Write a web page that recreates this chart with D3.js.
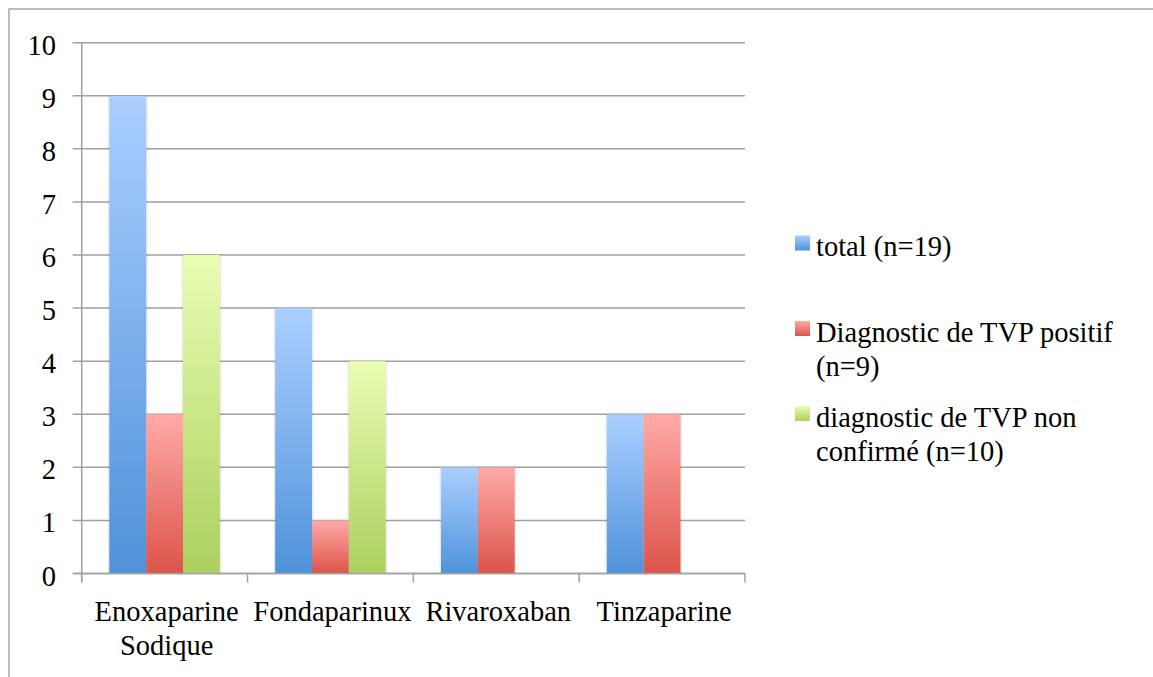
<!DOCTYPE html>
<html>
<head>
<meta charset="utf-8">
<script src="https://cdn.jsdelivr.net/npm/d3@7"></script>
</head>
<body style="margin:0">
<svg id="chart" width="1153" height="677"></svg>
<script>
const categories = [["Enoxaparine", "Sodique"], ["Fondaparinux"], ["Rivaroxaban"], ["Tinzaparine"]];
const seriesNames = [["total (n=19)"], ["Diagnostic de TVP positif", "(n=9)"], ["diagnostic de TVP non", "confirmé (n=10)"]];
const totalValues = [9, 5, 2, 3];
const positifValues = [3, 1, 2, 3];
const nonConfirmeValues = [6, 4, null, null];
const yTicks = [0, 1, 2, 3, 4, 5, 6, 7, 8, 9, 10];

const seriesValues = [totalValues, positifValues, nonConfirmeValues];
const gradStops = [
  ["#abcfff", "#4e92da"],
  ["#ffaaa7", "#dc5349"],
  ["#eafdb3", "#abd05e"]
];

const FONT = "'Liberation Serif'";
const fontSize = 28.5;
const gridColor = "#a0a0a0";

const svg = d3.select("#chart");
const defs = svg.append("defs");
gradStops.forEach((c, i) => {
  const g = defs.append("linearGradient").attr("id", "g" + i)
    .attr("x1", 0).attr("y1", 0).attr("x2", 0).attr("y2", 1);
  g.append("stop").attr("offset", "0%").attr("stop-color", c[0]);
  g.append("stop").attr("offset", "100%").attr("stop-color", c[1]);
});

// frame
svg.append("rect").attr("x", 9).attr("y", 9).attr("width", 1200).attr("height", 700)
  .attr("fill", "none").attr("stroke", "#a6a6a6").attr("stroke-width", 1.5);

const x0 = 81.7, x1r = 745, yTop = 42.7, yBot = 573.5;
const catKeys = categories.map(c => c.join(" "));
const x = d3.scaleBand().domain(catKeys).range([x0, x1r]).paddingInner(0).paddingOuter(0);
const xs = d3.scaleBand().domain([0, 1, 2]).range([0, x.bandwidth()]).paddingInner(0).paddingOuter(0.75);
const y = d3.scaleLinear().domain([0, 10]).range([yBot, yTop]);

// gridlines
svg.append("g").selectAll("line").data(yTicks).join("line")
  .attr("x1", x0 - 9).attr("x2", x1r)
  .attr("y1", d => y(d)).attr("y2", d => y(d))
  .attr("stroke", gridColor).attr("stroke-width", 1.5);

// bar shadows (soft edges) and bars
const bars = [];
seriesValues.forEach((vals, si) => {
  vals.forEach((v, ci) => {
    if (v !== null && v !== undefined) bars.push({ si, ci, v });
  });
});
svg.append("g").selectAll("rect").data(bars).join("rect")
  .attr("x", d => x(catKeys[d.ci]) + xs(d.si) - 1.5)
  .attr("width", xs.bandwidth() + 3)
  .attr("y", d => y(d.v) - 0.5)
  .attr("height", d => y(0) - y(d.v) + 0.5)
  .attr("fill", "#000").attr("fill-opacity", 0.08);
svg.append("g").selectAll("rect").data(bars).join("rect")
  .attr("x", d => x(catKeys[d.ci]) + xs(d.si))
  .attr("width", xs.bandwidth())
  .attr("y", d => y(d.v))
  .attr("height", d => y(0) - y(d.v))
  .attr("fill", d => `url(#g${d.si})`);

// axes lines
svg.append("line").attr("x1", x0).attr("x2", x0).attr("y1", yTop).attr("y2", yBot + 9)
  .attr("stroke", gridColor).attr("stroke-width", 1.5);
svg.append("line").attr("x1", x0 - 9).attr("x2", x1r).attr("y1", yBot).attr("y2", yBot)
  .attr("stroke", gridColor).attr("stroke-width", 1.5);
const bounds = catKeys.map(k => x(k)).concat([x1r]);
svg.append("g").selectAll("line").data(bounds).join("line")
  .attr("x1", d => d).attr("x2", d => d).attr("y1", yBot).attr("y2", yBot + 9)
  .attr("stroke", gridColor).attr("stroke-width", 1.5);

// legend swatches
const legendBase = [256, 341.5, 426.5];
svg.selectAll("rect.sw").data(seriesNames).join("rect").attr("class", "sw")
  .attr("x", 795).attr("y", (d, i) => legendBase[i] - 20.5)
  .attr("width", 15).attr("height", 15).attr("fill", (d, i) => `url(#g${i})`);

// texts directly in svg
svg.selectAll("text.yl").data(yTicks).join("text").attr("class", "yl")
  .attr("x", 56).attr("y", d => y(d) + 12)
  .attr("text-anchor", "end")
  .attr("font-size", fontSize)
  .style("font-family", FONT)
  .text(d => d);

categories.forEach((lines, ci) => {
  const cx = x(catKeys[ci]) + x.bandwidth() / 2 + 2;
  lines.forEach((l, li) => {
    svg.append("text")
      .attr("text-anchor", "middle")
      .attr("x", cx).attr("y", yBot + 47.5 + li * 34)
      .attr("font-size", fontSize)
      .style("font-family", FONT)
      .text(l);
  });
});

seriesNames.forEach((lines, si) => {
  lines.forEach((l, li) => {
    svg.append("text")
      .attr("x", 816).attr("y", legendBase[si] + li * 34.5)
      .attr("font-size", fontSize)
      .style("font-family", FONT)
      .text(l);
  });
});
</script>
</body>
</html>
